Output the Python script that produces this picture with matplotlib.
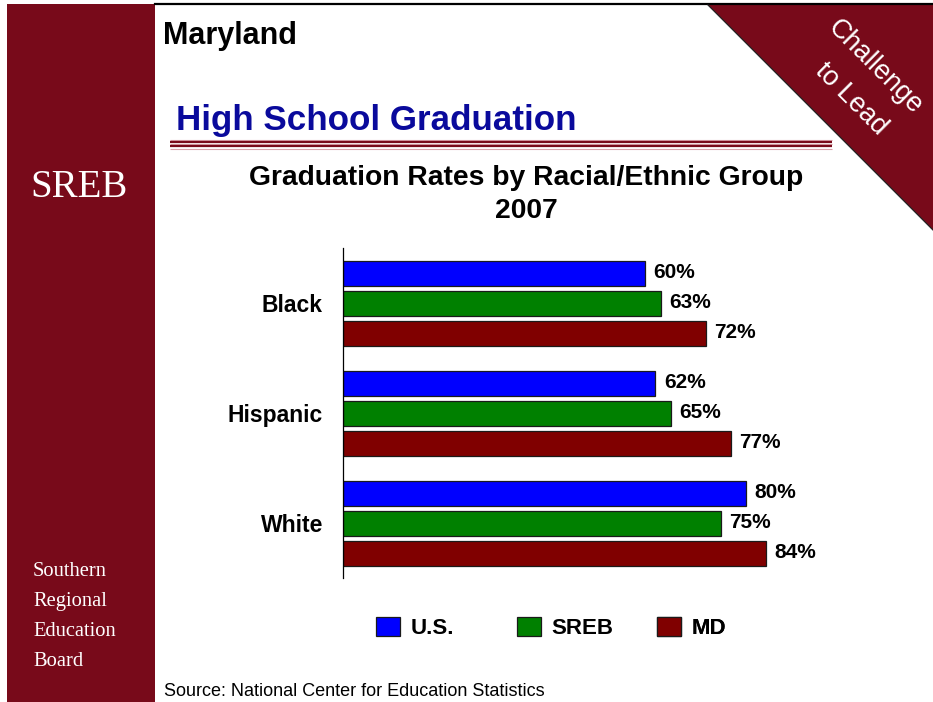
import matplotlib.pyplot as plt
from matplotlib.patches import Rectangle, Polygon

plt.rcParams['font.family'] = ['Liberation Sans', 'DejaVu Sans']

groups = ["Black", "Hispanic", "White"]
series = ["U.S.", "SREB", "MD"]
us_rates = [60, 62, 80]
sreb_rates = [63, 65, 75]
md_rates = [72, 77, 84]
bar_colors = ["#0000FF", "#008000", "#800000"]

W, H = 933, 702
maroon = "#780A1A"

fig = plt.figure(figsize=(W / 100, H / 100), dpi=100)

# page decoration, drawn in pixel units
bg = fig.add_axes([0, 0, 1, 1])
bg.set_xlim(0, W)
bg.set_ylim(H, 0)
bg.axis("off")

bg.add_patch(Rectangle((7, 4), 148, H - 4, color=maroon, lw=0))
bg.plot([155, W], [4, 4], color="black", lw=1.6)
bg.add_patch(Polygon([(708, 5), (W, 5), (W, 230)], closed=True,
                     facecolor=maroon, edgecolor="none"))
bg.plot([708, W], [5, 230], color="#222222", lw=0.9)

for yy, c, lw in [(140, "#d8a3ab", 0.8), (142, maroon, 1.6), (144.3, "#d8a3ab", 0.8),
                  (146.3, maroon, 1.6), (148.5, "#d8a3ab", 0.8)]:
    bg.plot([170, 832], [yy, yy], color=c, lw=lw, solid_capstyle="butt")

bg.text(163, 44, "Maryland", fontsize=22, fontweight="bold", va="baseline")
bg.text(176, 130, "High School Graduation", fontsize=25.2, fontweight="bold",
        color="#0A0A9C", va="baseline")
bg.text(526, 185, "Graduation Rates by Racial/Ethnic Group", fontsize=20.3,
        fontweight="bold", ha="center", va="baseline")
bg.text(526, 218, "2007", fontsize=20.3, fontweight="bold", ha="center", va="baseline")

bg.text(875, 67, "Challenge", fontsize=19.5, color="white", rotation=-45,
        rotation_mode="anchor", ha="center", va="center")
bg.text(851, 99, "to Lead", fontsize=19.5, color="white", rotation=-45,
        rotation_mode="anchor", ha="center", va="center")

bg.text(30, 197, "SREB", fontsize=28, color="white", family="Liberation Serif",
        va="baseline")
for i, word in enumerate(["Southern", "Regional", "Education", "Board"]):
    bg.text(33, 576 + 30 * i, word, fontsize=14.8, color="white",
            family="Liberation Serif", va="baseline")

bg.text(164, 696, "Source: National Center for Education Statistics", fontsize=13,
        va="baseline")

# bar chart
ax = fig.add_axes([343 / W, (H - 578) / H, 504 / W, 330 / H])
ax.set_facecolor("none")
step = 30 / 110
height = 25 / 110
handles = []
for k, (vals, col, name) in enumerate(zip([us_rates, sreb_rates, md_rates],
                                          bar_colors, series)):
    pos = [g + (k - 1) * step for g in range(len(groups))]
    bars = ax.barh(pos, vals, height=height, color=col, edgecolor="#1a1a1a",
                   linewidth=0.9, label=name)
    handles.append(bars)
    for p, v in zip(pos, vals):
        ax.annotate("%d%%" % v, (v, p), xytext=(6, 0), textcoords="offset points",
                    ha="left", va="center", fontsize=15, fontweight="bold")

ax.set_xlim(0, 100)
ax.set_ylim(2.5, -0.5)
ax.set_yticks(range(len(groups)))
ax.set_yticklabels(groups, fontsize=16.5, fontweight="bold")
ax.tick_params(axis="y", length=0, pad=14.5)
ax.set_xticks([])
for s in ["top", "right", "bottom"]:
    ax.spines[s].set_visible(False)
ax.spines["left"].set_linewidth(0.9)

# legend: one entry per column, evenly spaced
for h, x0 in zip(handles, [372, 513, 653]):
    leg = ax.legend(handles=[h], loc="center left",
                    bbox_to_anchor=(x0 / W, (H - 628) / H),
                    bbox_transform=fig.transFigure, frameon=False,
                    prop={"size": 16, "weight": "bold"},
                    handlelength=1.04, handleheight=0.95, handletextpad=0.5,
                    borderaxespad=0, borderpad=0.2)
    ax.add_artist(leg)

fig.savefig("out.png", dpi=100)
